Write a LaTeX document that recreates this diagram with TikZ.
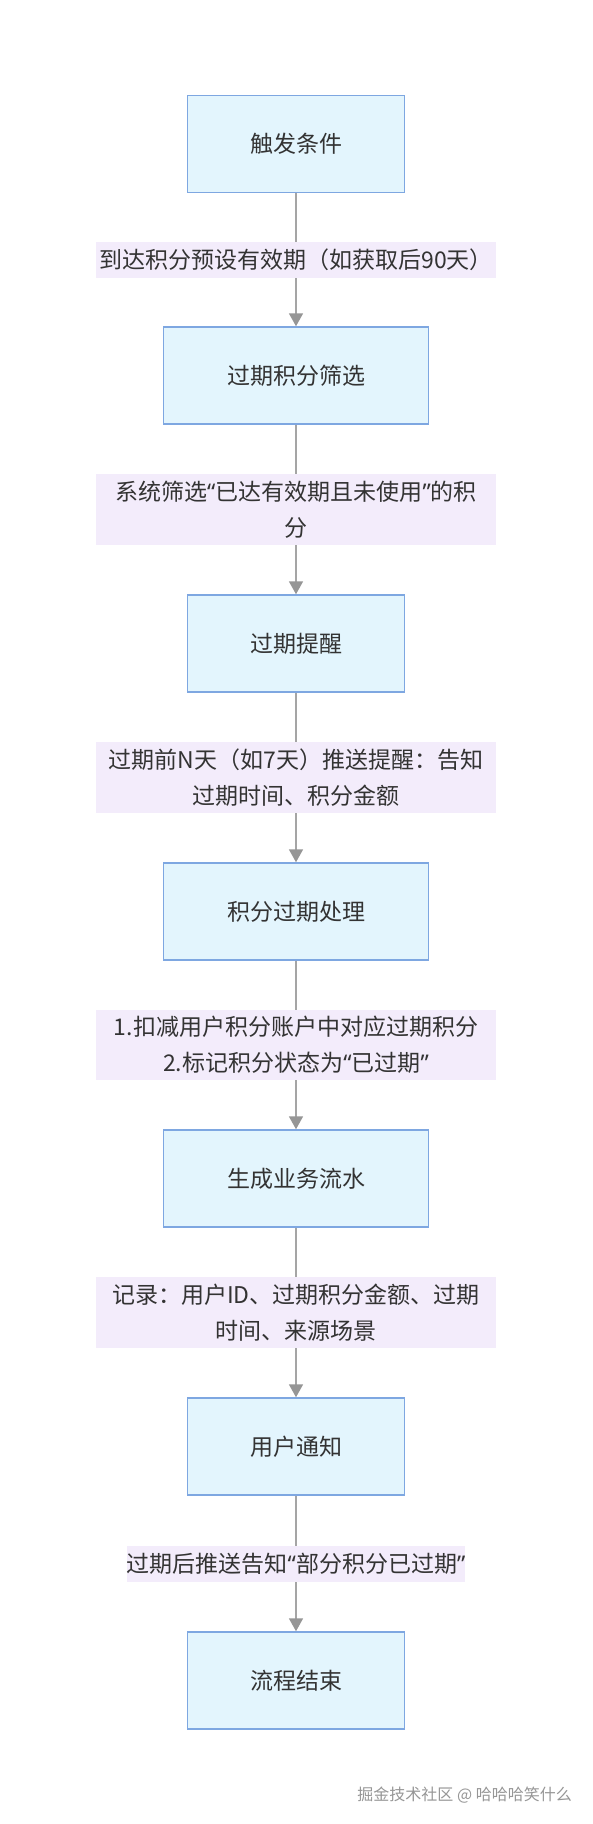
\documentclass[tikz,border=0pt]{standalone}
\usepackage{fontspec}
\setmainfont{Noto Sans CJK SC}
\newfontfamily\latinq{Noto Sans}
\newcommand{\lqt}{{\latinq “}}
\newcommand{\rqt}{{\latinq ”}}
\usetikzlibrary{arrows.meta}
\definecolor{boxfill}{RGB}{227,245,253}
\definecolor{boxdraw}{RGB}{126,167,225}
\definecolor{lblfill}{RGB}{243,236,251}
\definecolor{txt}{RGB}{51,51,51}
\definecolor{edgec}{RGB}{165,165,165}
\definecolor{tipc}{RGB}{150,150,150}
\definecolor{wmc}{RGB}{150,150,150}
\begin{document}
\begin{tikzpicture}[x=1pt,y=-1pt,
  proc/.style={draw=boxdraw, line width=1.5pt, fill=boxfill, minimum height=97pt, inner sep=0pt, text=txt, font=\fontsize{23}{36}\selectfont},
  narrow/.style={proc, minimum width=217pt},
  wide/.style={proc, minimum width=265pt},
  lbl/.style={fill=lblfill, text=txt, font=\fontsize{23}{36}\selectfont, align=center, inner xsep=0pt, inner ysep=6.5pt, minimum height=36pt},
  flow/.style={draw=edgec, line width=1.8pt, -{Triangle[width=14pt,length=13pt,fill=tipc,color=tipc]}}
]
\useasboundingbox (0,0) rectangle (592,1824);
\fill[white] (0,0) rectangle (592,1824);

\node[narrow] (b1) at (296,144) {触发条件};
\node[wide] (b2) at (296,375.5) {过期积分筛选};
\node[narrow] (b3) at (296,643.5) {过期提醒};
\node[wide] (b4) at (296,911.5) {积分过期处理};
\node[wide] (b5) at (296,1178.5) {生成业务流水};
\node[narrow] (b6) at (296,1446.5) {用户通知};
\node[narrow] (b7) at (296,1680.5) {流程结束};

\draw[flow] (b1) -- node[lbl, minimum width=400pt] (l1) {到达积分预设有效期（如获取后90天）} (b2);
\draw[flow] (b2) -- node[lbl, minimum width=400pt] (l2) {系统筛选\lqt 已达有效期且未使用\rqt 的积\\分} (b3);
\draw[flow] (b3) -- node[lbl, minimum width=400pt] (l3) {过期前N天（如7天）推送提醒：告知\\过期时间、积分金额} (b4);
\draw[flow] (b4) -- node[lbl, minimum width=400pt] (l4) {1.扣减用户积分账户中对应过期积分\\2.标记积分状态为\lqt 已过期\rqt} (b5);
\draw[flow] (b5) -- node[lbl, minimum width=400pt] (l5) {记录：用户ID、过期积分金额、过期\\时间、来源场景} (b6);
\draw[flow] (b6) -- node[lbl] (l6) {过期后推送告知\lqt 部分积分已过期\rqt} (b7);

\node[text=wmc, font=\fontsize{16}{16}\selectfont, anchor=east, inner sep=0pt] (wm) at (572,1795) {掘金技术社区 @ 哈哈哈笑什么};
\end{tikzpicture}
\end{document}
